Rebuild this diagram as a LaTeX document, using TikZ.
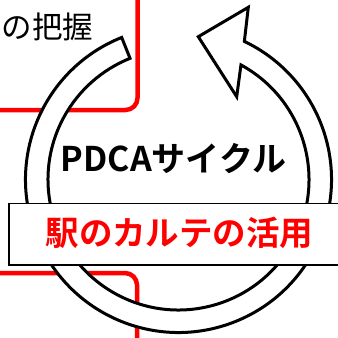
\documentclass[tikz,border=0pt]{standalone}
\usepackage{fontspec}
\newfontfamily\jpfont{Noto Sans CJK JP}[BoldFont={Noto Sans CJK JP Bold}]
\usetikzlibrary{calc}
\begin{document}
\begin{tikzpicture}[x=1pt,y=-1pt,
  redbox/.style={draw=red, line width=4.5pt, rounded corners=12pt},
  ring/.style={draw=black, fill=white, line width=3pt, line join=miter},
  labelbox/.style={draw=black, fill=white, line width=1.5pt},
  txt/.style={inner sep=0pt, font=\jpfont}
]
\useasboundingbox (0,0) rectangle (338,338);
% red frames (behind)
\draw[redbox] (-30,-30) rectangle (137.5,110);
\draw[redbox] (-30,273) rectangle (137,380);
\node[txt, anchor=east, font=\jpfont\fontsize{30.5pt}{30.5pt}\selectfont] (haaku) at (93.5,27) {の把握};
% circular arrow
\coordinate (C) at (178.5,179.5);
\coordinate (tailO) at ($(C)+(-111.8:153)$);
\coordinate (barbA) at (248.3,7.3);
\coordinate (tip) at (198.3,36.7);
\coordinate (barbB) at (236.7,96.7);
\coordinate (neckI) at ($(C)+(-421.4:130.5)$);
\draw[ring] (tailO) arc[start angle=-111.8, end angle=-424.5, radius=153]
  -- (barbA) -- (tip) -- (barbB) -- (neckI)
  arc[start angle=-421.4, end angle=-111.8, radius=130.5] -- cycle;
% label box
\draw[labelbox] (9,203.5) rectangle (350,265);
\node[txt, font=\jpfont\bfseries\fontsize{34pt}{34pt}\selectfont, text=black] (pdca) at (173.5,159) {PDCAサイクル};
\node[txt, font=\jpfont\bfseries\fontsize{33.5pt}{33.5pt}\selectfont, text=red] (karte) at (179.5,233) {駅のカルテの活用};
\end{tikzpicture}
\end{document}
